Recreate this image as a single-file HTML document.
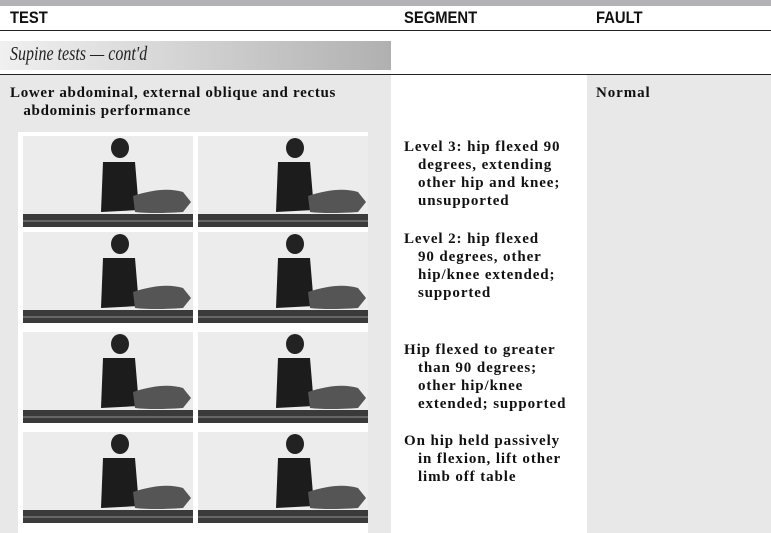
<!DOCTYPE html>
<html><head><meta charset="utf-8"><style>
*{margin:0;padding:0}
body{width:771px;height:533px;position:relative;overflow:hidden;background:#fff;font-family:"Liberation Serif",serif}
.a{position:absolute;white-space:nowrap}
.h{font-family:"Liberation Sans",sans-serif;font-size:17px;font-weight:bold;color:#111;transform:scaleX(.87);transform-origin:left}
.t{font-weight:bold;font-size:15px;line-height:18px;color:#111;letter-spacing:0.9px}
</style></head><body>
<div class="a" style="left:0;top:0;width:771px;height:6px;background:#b3b3b7"></div>
<div class="a h" style="left:10px;top:8px">TEST</div>
<div class="a h" style="left:404px;top:8px">SEGMENT</div>
<div class="a h" style="left:596px;top:8px">FAULT</div>
<div class="a" style="left:0;top:30px;width:771px;height:1px;background:#222"></div>
<div class="a" style="left:0;top:41px;width:391px;height:29px;background:linear-gradient(90deg,#f0f0f0,#d8d8d8 40%,#b0b0b0)"></div>
<div class="a" style="left:10px;top:43px;font-style:italic;font-size:20px;color:#222;transform:scaleX(.8);transform-origin:left">Supine tests — cont'd</div>
<div class="a" style="left:0;top:74px;width:771px;height:1px;background:#222"></div>
<div class="a" style="left:0;top:75px;width:391px;height:458px;background:#e8e8e8"></div>
<div class="a" style="left:587px;top:75px;width:184px;height:458px;background:#e8e8e8"></div>
<div class="a t" style="left:10px;top:84px;letter-spacing:0.7px">Lower abdominal, external oblique and rectus<br>&nbsp;&nbsp;&nbsp;abdominis performance</div>
<div class="a t" style="left:596px;top:84px">Normal</div>
<div class="a" style="left:18px;top:132px;width:350px;height:401px;background:#fff"></div>
<svg class="a" style="left:0;top:0" width="771" height="533">
<defs>
<g id="ph">
<rect width="170" height="91" fill="#ececec"/>
<rect y="78" width="170" height="13" fill="#3a3a3a"/>
<rect y="84" width="170" height="2" fill="#666"/>
<ellipse cx="97" cy="12" rx="9" ry="10" fill="#222"/>
<path d="M80 26 L112 26 L116 74 L78 76 Z" fill="#1c1c1c"/>
<path d="M110 60 Q140 50 160 56 L168 66 L160 76 Q130 78 112 76 Z" fill="#555"/>
</g>
</defs>
<use href="#ph" x="23" y="136"/><use href="#ph" x="198" y="136"/>
<use href="#ph" x="23" y="232"/><use href="#ph" x="198" y="232"/>
<use href="#ph" x="23" y="332"/><use href="#ph" x="198" y="332"/>
<use href="#ph" x="23" y="432"/><use href="#ph" x="198" y="432"/>
</svg>
<div class="a t" style="left:404px;top:138px">
Level 3: hip flexed 90<br>&nbsp;&nbsp;&nbsp;degrees, extending<br>&nbsp;&nbsp;&nbsp;other hip and knee;<br>&nbsp;&nbsp;&nbsp;unsupported</div>
<div class="a t" style="left:404px;top:230px">
Level 2: hip flexed<br>&nbsp;&nbsp;&nbsp;90 degrees, other<br>&nbsp;&nbsp;&nbsp;hip/knee extended;<br>&nbsp;&nbsp;&nbsp;supported</div>
<div class="a t" style="left:404px;top:341px">
Hip flexed to greater<br>&nbsp;&nbsp;&nbsp;than 90 degrees;<br>&nbsp;&nbsp;&nbsp;other hip/knee<br>&nbsp;&nbsp;&nbsp;extended; supported</div>
<div class="a t" style="left:404px;top:432px">
On hip held passively<br>&nbsp;&nbsp;&nbsp;in flexion, lift other<br>&nbsp;&nbsp;&nbsp;limb off table</div>
</body></html>
